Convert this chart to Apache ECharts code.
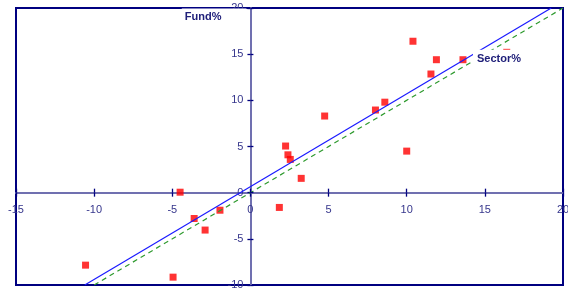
<!DOCTYPE html>
<html><head><meta charset="utf-8">
<script src="https://cdn.jsdelivr.net/npm/echarts@6/dist/echarts.min.js"></script>
<style>html,body{margin:0;padding:0;background:#fff}#c{width:568px;height:289px}</style>
</head><body><div id="c"></div>
<script>
var sectorX = [-4.5,-3.6,-1.95,-2.9,-10.55,-4.95,1.85,2.25,2.4,2.55,3.25,4.75,8.0,8.6,10.0,10.4,11.9,11.55,13.6,16.4];
var fundY   = [0.05,-2.8,-1.9,-4.05,-7.85,-9.15,-1.6,5.05,4.1,3.6,1.55,8.3,8.95,9.8,4.5,16.4,14.4,12.85,14.4,15.2];
var fitLineX = [-10.6, 19.25];
var fitLineY = [-10, 20];
var parityX = [-10, 20];
var parityY = [-10, 20];
var xMin = -15, xMax = 20, yMin = -10, yMax = 20, step = 5;
var xAxisName = 'Sector%';
var yAxisName = 'Fund%';

var pts = sectorX.map(function(x,i){return [x, fundY[i]];});
var fit = fitLineX.map(function(x,i){return [x, fitLineY[i]];});
var par = parityX.map(function(x,i){return [x, parityY[i]];});

var W = 568, H = 289;
var G = {left:16, right:5, top:8, bottom:4};
var gw = W - G.left - G.right, gh = H - G.top - G.bottom;
// offsets that move each axis onto the other axis's zero
var offBottom = -gh * (0 - yMin) / (yMax - yMin);
var offTop = -gh * (yMax - 0) / (yMax - yMin);
var offLeft = -gw * (0 - xMin) / (xMax - xMin);
var offRight = -gw * (xMax - 0) / (xMax - xMin);

var font = 'Liberation Sans, Arial, sans-serif';
var navy = '#000080';
var axisCol = '#7070b0';
var lblCol = '#36368c';
var nameCol = '#20207a';

var chart = echarts.init(document.getElementById('c'), null, {renderer:'canvas'});
chart.setOption({
  animation:false,
  backgroundColor:'#fff',
  grid:{left:G.left,right:G.right,top:G.top,bottom:G.bottom,show:true,borderColor:navy,borderWidth:2,
        backgroundColor:'transparent',outerBoundsMode:'none',containLabel:false},
  xAxis:[{
    type:'value',min:xMin,max:xMax,interval:step,position:'bottom',offset:offBottom,
    axisLine:{onZero:false,lineStyle:{color:axisCol,width:2}},
    axisTick:{show:true,inside:false,length:4,lineStyle:{color:navy,width:1.3}},
    axisLabel:{color:lblCol,fontSize:11,fontFamily:font,margin:12},
    splitLine:{show:false}
  },{
    type:'value',min:xMin,max:xMax,interval:step,position:'top',offset:offTop,z:10,
    axisLine:{show:true,onZero:false,lineStyle:{color:'rgba(0,0,0,0)',width:1}},
    axisTick:{show:true,inside:false,length:4,lineStyle:{color:navy,width:1.3}},
    axisLabel:{show:false},
    splitLine:{show:false},
    name:'{a|'+xAxisName+'}',nameLocation:'end',nameGap:-38,
    nameTextStyle:{align:'right',verticalAlign:'bottom',padding:[0,0,124,0],
      rich:{a:{backgroundColor:'#fff',padding:[4,4,4,4],fontWeight:'bold',fontSize:11,fontFamily:font,color:nameCol}}}
  }],
  yAxis:[{
    type:'value',min:yMin,max:yMax,interval:step,position:'left',offset:offLeft,
    axisLine:{onZero:false,lineStyle:{color:axisCol,width:2}},
    axisTick:{show:true,inside:false,length:3,lineStyle:{color:navy,width:1.3}},
    axisLabel:{color:lblCol,fontSize:11,fontFamily:font,margin:7},
    splitLine:{show:false}
  },{
    type:'value',min:yMin,max:yMax,interval:step,position:'right',offset:offRight,z:10,
    axisLine:{show:true,onZero:false,lineStyle:{color:'rgba(0,0,0,0)',width:1}},
    axisTick:{show:true,inside:false,length:3,lineStyle:{color:navy,width:1.3}},
    axisLabel:{show:false},
    splitLine:{show:false},
    name:'{a|'+yAxisName+'}',nameLocation:'end',nameGap:-9,
    nameTextStyle:{align:'right',verticalAlign:'middle',padding:[0,4,0,0],
      rich:{a:{backgroundColor:'#fff',padding:[3,25,3,3],fontWeight:'bold',fontSize:11,fontFamily:font,color:nameCol}}}
  }],
  series:[
    {type:'scatter',data:pts,symbol:'rect',symbolSize:7,itemStyle:{color:'#ff0000'},silent:true},
    {type:'line',data:fit,symbol:'none',lineStyle:{color:'#1a1aff',width:1.2},silent:true},
    {type:'line',data:par,symbol:'none',lineStyle:{color:'#2e9a2e',width:1.2,type:[5,4]},silent:true}
  ]
});
</script></body></html>
